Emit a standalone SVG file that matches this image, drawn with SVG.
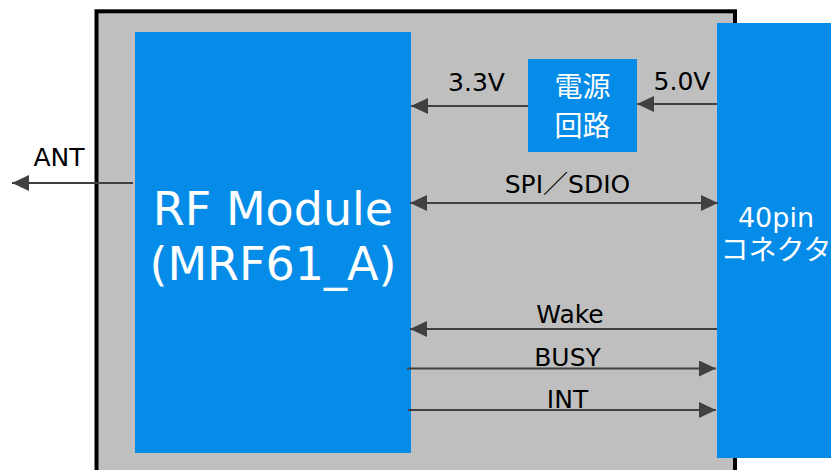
<svg xmlns="http://www.w3.org/2000/svg" width="831" height="470" viewBox="0 0 831 470">
<style>
.blk{fill:#058BE8}
.wt{fill:#ffffff;font-family:"DejaVu Sans","Noto Sans CJK JP",sans-serif;text-anchor:middle}
.jp{fill:#ffffff;font-family:"Noto Sans CJK JP",sans-serif;text-anchor:middle}
.lbl{fill:#000000;font-family:"DejaVu Sans","Noto Sans CJK JP",sans-serif;font-size:25px;text-anchor:middle}
.cn{stroke:#404040;stroke-width:2;fill:none}
</style>
<defs>
<marker id="ah" markerUnits="userSpaceOnUse" markerWidth="17" markerHeight="16" refX="17" refY="8" orient="auto-start-reverse">
<path d="M0,0 L17,8 L0,16 z" fill="#404040"/>
</marker>
</defs>
<g id="board">
<rect x="96.5" y="11.3" width="638.5" height="480" fill="#BFBFBF" stroke="#000000" stroke-width="4"/>
</g>
<g id="rf">
<rect class="blk" x="135" y="32" width="276" height="421"/>
<text class="wt" x="273" y="225" font-size="46">RF Module</text>
<text class="wt" x="273" y="280" font-size="46">(MRF61_A)</text>
</g>
<g id="power">
<rect class="blk" x="528" y="59" width="109" height="93"/>
<text class="jp" x="582.5" y="97" font-size="28">電源</text>
<text class="jp" x="582.5" y="136" font-size="28">回路</text>
</g>
<g id="connector">
<rect class="blk" x="717" y="23" width="130" height="435"/>
<text class="wt" x="776" y="227" font-size="27">40pin</text>
<text class="jp" x="776" y="260" font-size="28">コネクタ</text>
</g>
<g id="connectors">
<line class="cn" x1="133" y1="183" x2="12" y2="183" marker-end="url(#ah)"/>
<line class="cn" x1="528" y1="106" x2="411" y2="106" marker-end="url(#ah)"/>
<line class="cn" x1="717" y1="104" x2="637" y2="104" marker-end="url(#ah)"/>
<line class="cn" x1="410" y1="203" x2="718" y2="203" marker-start="url(#ah)" marker-end="url(#ah)"/>
<line class="cn" x1="717" y1="329" x2="410" y2="329" marker-end="url(#ah)"/>
<line class="cn" x1="407" y1="368.5" x2="716" y2="368.5" marker-end="url(#ah)"/>
<line class="cn" x1="408" y1="410" x2="716" y2="410" marker-end="url(#ah)"/>
</g>
<g id="labels">
<text class="lbl" x="59" y="166">ANT</text>
<text class="lbl" x="476.5" y="91">3.3V</text>
<text class="lbl" x="682" y="90">5.0V</text>
<text class="lbl" x="567.5" y="193">SPI／SDIO</text>
<text class="lbl" x="570" y="323">Wake</text>
<text class="lbl" x="567.5" y="366">BUSY</text>
<text class="lbl" x="567.5" y="408">INT</text>
</g>
</svg>
